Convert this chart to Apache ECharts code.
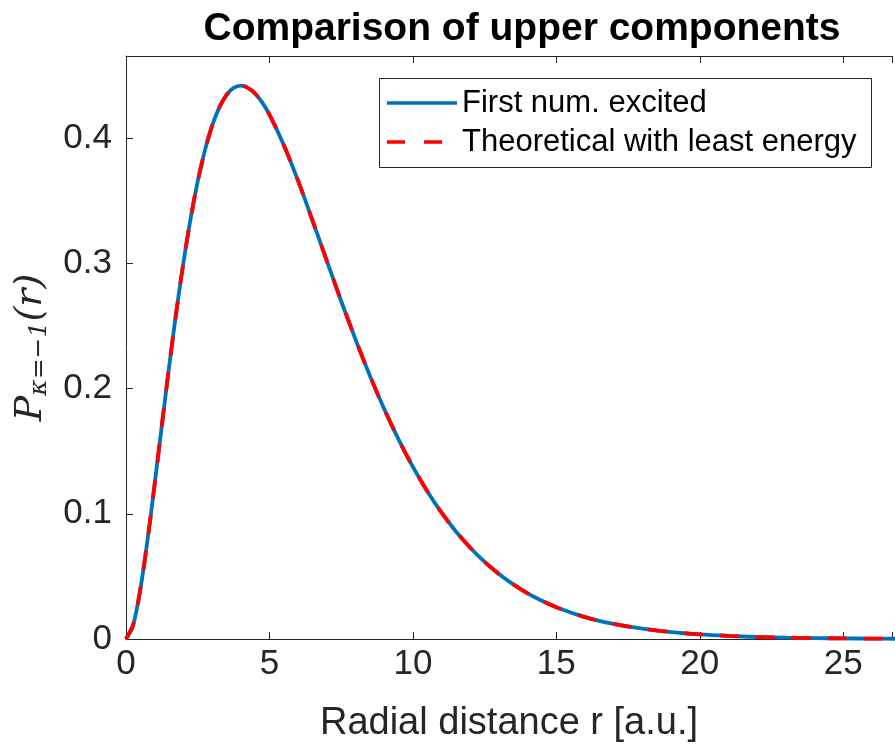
<!DOCTYPE html>
<html><head><meta charset="utf-8">
<script src="https://cdn.jsdelivr.net/npm/echarts@6/dist/echarts.min.js"></script>
<style>html,body{margin:0;padding:0;background:#fff}#c{width:895px;height:748px}</style>
</head><body><div id="c"></div>
<script>
const titleText = 'Comparison of upper components';
const xLabel = 'Radial distance r [a.u.]';
const seriesNames = ['First num. excited', 'Theoretical with least energy'];
const yTicks = [0, 0.1, 0.2, 0.3, 0.4];
const xTicks = [0, 5, 10, 15, 20, 25];
const rValues = [0, 0.25, 0.5, 0.75, 1, 1.25, 1.5, 1.75, 2, 2.25, 2.5, 2.75, 3, 3.25, 3.5, 3.75, 4, 4.25, 4.5, 4.75, 5, 5.5, 6, 6.5, 7, 7.5, 8, 8.5, 9, 9.5, 10, 10.5, 11, 11.5, 12, 12.5, 13, 13.5, 14, 14.5, 15, 16, 17, 18, 19, 20, 21, 22, 23, 24, 25, 26, 27];
const numericP = [0, 0.0113, 0.0397, 0.0789, 0.1238, 0.1707, 0.2169, 0.2606, 0.3004, 0.3355, 0.3655, 0.3903, 0.4099, 0.4245, 0.4345, 0.4402, 0.4420, 0.4403, 0.4357, 0.4284, 0.4189, 0.3947, 0.3659, 0.3344, 0.3020, 0.2700, 0.2393, 0.2104, 0.1837, 0.1594, 0.1375, 0.1181, 0.1009, 0.0859, 0.0729, 0.0616, 0.0519, 0.0436, 0.0365, 0.0305, 0.0254, 0.0175, 0.0120, 0.0082, 0.0055, 0.0037, 0.0025, 0.0016, 0.0011, 0.0007, 0.0005, 0.0003, 0.0002];
const theoryP = [0, 0.0113, 0.0397, 0.0789, 0.1238, 0.1707, 0.2169, 0.2606, 0.3004, 0.3355, 0.3655, 0.3903, 0.4099, 0.4245, 0.4345, 0.4402, 0.4420, 0.4403, 0.4357, 0.4284, 0.4189, 0.3947, 0.3659, 0.3344, 0.3020, 0.2700, 0.2393, 0.2104, 0.1837, 0.1594, 0.1375, 0.1181, 0.1009, 0.0859, 0.0729, 0.0616, 0.0519, 0.0436, 0.0365, 0.0305, 0.0254, 0.0175, 0.0120, 0.0082, 0.0055, 0.0037, 0.0025, 0.0016, 0.0011, 0.0007, 0.0005, 0.0003, 0.0002];

const ink = '#262626';
const blue = '#0072BD', red = '#FF0000';
const sans = 'Liberation Sans, Arial, Helvetica';
const serif = 'DejaVu Serif, Liberation Serif';
const chart = echarts.init(document.getElementById('c'));
const pair = arr => rValues.map((r, i) => [r, arr[i]]);
const baseAxis = {
  axisLine: {show: true, onZero: false, lineStyle: {color: ink, width: 1}},
  axisTick: {show: true, inside: true, length: 7, lineStyle: {color: ink}},
  splitLine: {show: false}
};
chart.setOption({
  animation: false,
  backgroundColor: '#fff',
  title: {
    text: titleText, left: 517, top: 5, textAlign: 'center',
    textStyle: {fontFamily: sans, fontWeight: 'bold', fontSize: 39, color: '#000'}
  },
  grid: {left: 126, top: 56, bottom: 109, right: -14},
  xAxis: [
    Object.assign({}, baseAxis, {
      type: 'value', min: 0, max: 26.7, interval: 5, position: 'bottom',
      axisLabel: {color: ink, fontSize: 35, margin: 8, fontFamily: sans,
        formatter: v => xTicks.includes(v) ? String(v) : ''},
      name: xLabel, nameLocation: 'middle', nameGap: 66,
      nameTextStyle: {color: ink, fontSize: 38, fontFamily: sans}
    }),
    Object.assign({}, baseAxis, {
      type: 'value', min: 0, max: 26.7, interval: 5, position: 'top',
      axisLabel: {show: false}
    })
  ],
  yAxis: [
    Object.assign({}, baseAxis, {
      type: 'value', min: 0, max: 0.4657, interval: 0.1, position: 'left',
      axisLabel: {color: ink, fontSize: 35, margin: 14, fontFamily: sans,
        formatter: v => yTicks.some(t => Math.abs(t - v) < 1e-9) ? String(+v.toFixed(1)) : ''},
      name: '{p|P}{s|κ=−1}{p|(r)}', nameLocation: 'middle', nameGap: 74, nameRotate: 90,
      nameTextStyle: {
        color: ink,
        rich: {
          p: {fontFamily: serif, fontStyle: 'italic', fontSize: 38, color: ink},
          s: {fontFamily: serif, fontStyle: 'italic', fontSize: 25, color: ink, verticalAlign: 'bottom', padding: [16, 0, 0, 0]}
        }
      }
    })
  ],
  graphic: [
    {type: 'rect', shape: {x: 379.5, y: 78.5, width: 492, height: 89}, style: {fill: '#fff', stroke: ink, lineWidth: 1}, z: 50},
    {type: 'line', shape: {x1: 387, y1: 103, x2: 457, y2: 103}, style: {stroke: blue, lineWidth: 3.5}, z: 51},
    {type: 'line', shape: {x1: 387, y1: 142, x2: 457, y2: 142}, style: {stroke: red, lineWidth: 3.5, lineDash: [18, 19]}, z: 51},
    {type: 'text', x: 462, y: 103, style: {text: seriesNames[0], fill: '#000', font: '31px ' + sans, textVerticalAlign: 'middle'}, z: 51},
    {type: 'text', x: 462, y: 142, style: {text: seriesNames[1], fill: '#000', font: '31px ' + sans, textVerticalAlign: 'middle'}, z: 51}
  ],
  series: [
    {name: seriesNames[0], type: 'line', data: pair(numericP), smooth: 0.3, showSymbol: false, symbol: 'none',
      itemStyle: {color: blue}, lineStyle: {color: blue, width: 3.8}, z: 2},
    {name: seriesNames[1], type: 'line', data: pair(theoryP), smooth: 0.3, showSymbol: false, symbol: 'none',
      itemStyle: {color: red}, lineStyle: {color: red, width: 3.8, type: [19, 17]}, z: 3}
  ]
});
</script></body></html>
